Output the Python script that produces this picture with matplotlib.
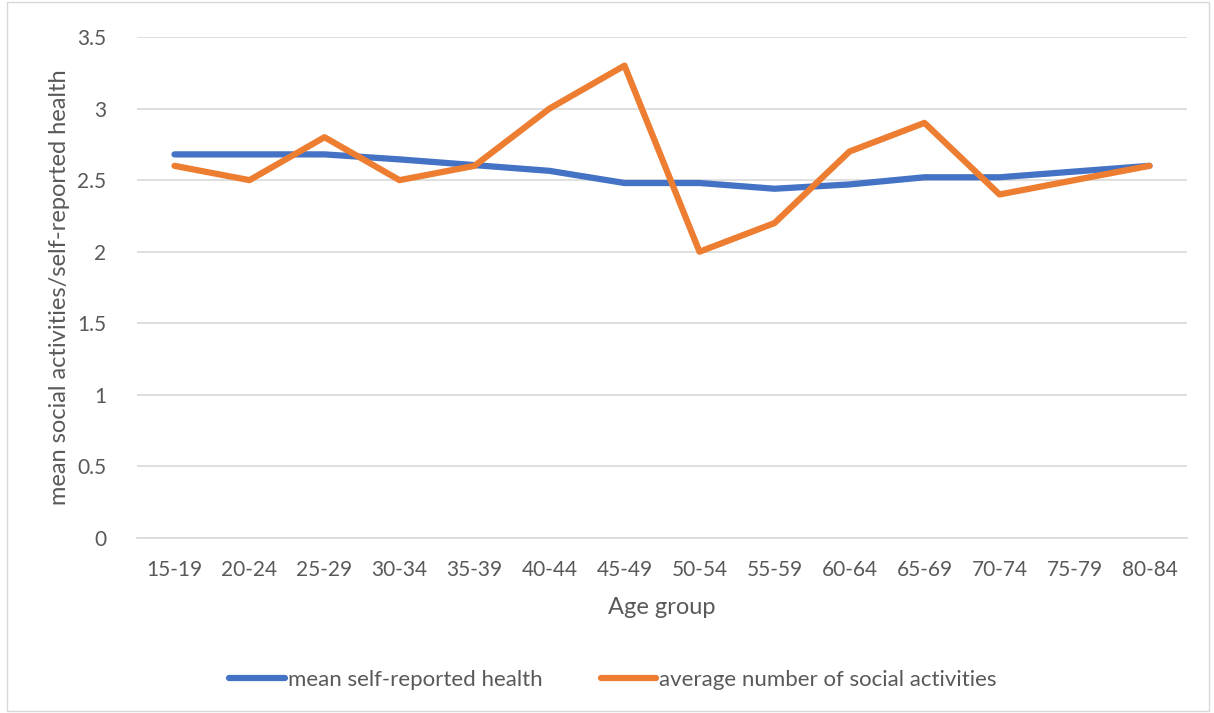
import matplotlib
matplotlib.use("Agg")
import matplotlib.pyplot as plt
from matplotlib.patches import Rectangle

age_groups = ["15-19", "20-24", "25-29", "30-34", "35-39", "40-44", "45-49",
              "50-54", "55-59", "60-64", "65-69", "70-74", "75-79", "80-84"]
health = [2.68, 2.68, 2.68, 2.645, 2.605, 2.565, 2.48,
          2.48, 2.44, 2.47, 2.52, 2.52, 2.56, 2.60]
social = [2.6, 2.5, 2.8, 2.5, 2.6, 3.0, 3.3,
          2.0, 2.2, 2.7, 2.9, 2.4, 2.5, 2.6]
yticks = [0, 0.5, 1, 1.5, 2, 2.5, 3, 3.5]
ytick_labels = ["0", "0.5", "1", "1.5", "2", "2.5", "3", "3.5"]

plt.rcParams["font.family"] = ["Lato", "DejaVu Sans"]
text_color = "#595959"

fig = plt.figure(figsize=(12.14, 7.13), dpi=100)
fig.add_artist(Rectangle((0.006, 0.003), 0.99, 0.994, transform=fig.transFigure,
                         fill=False, edgecolor="#D9D9D9", linewidth=1.0))
ax = fig.add_axes([137 / 1214, 1 - 538 / 713, 1050 / 1214, 501 / 713])

x = list(range(len(age_groups)))
ax.plot(x, health, color="#4472C4", linewidth=4.5, solid_capstyle="round",
        solid_joinstyle="round", label="mean self-reported health")
ax.plot(x, social, color="#ED7D31", linewidth=4.5, solid_capstyle="round",
        solid_joinstyle="round", label="average number of social activities")

ax.set_xlim(-0.5, len(age_groups) - 0.5)
ax.set_ylim(0, 3.5)
ax.set_yticks(yticks)
ax.set_yticklabels(ytick_labels)
ax.set_xticks(x)
ax.set_xticklabels(age_groups)
ax.grid(axis="y", color="#D9D9D9", linewidth=1.2)
ax.set_axisbelow(True)
for side in ["top", "right", "left"]:
    ax.spines[side].set_visible(False)
ax.spines["bottom"].set_color("#D9D9D9")
ax.spines["bottom"].set_linewidth(1.2)
ax.tick_params(length=0, labelsize=15, colors=text_color)
ax.tick_params(axis="x", pad=16)
ax.tick_params(axis="y", pad=22)

ax.set_xlabel("Age group", fontsize=17, color=text_color, labelpad=12)
ax.set_ylabel("mean social activities/self-reported health", fontsize=17,
              color=text_color, labelpad=5)

fig.legend(loc="center", bbox_to_anchor=(0.505, 1 - 680 / 713), ncol=2,
           frameon=False, fontsize=16, handlelength=2.5, handletextpad=0.15,
           columnspacing=2.6, labelcolor=text_color)

fig.savefig("out.png", dpi=100)
